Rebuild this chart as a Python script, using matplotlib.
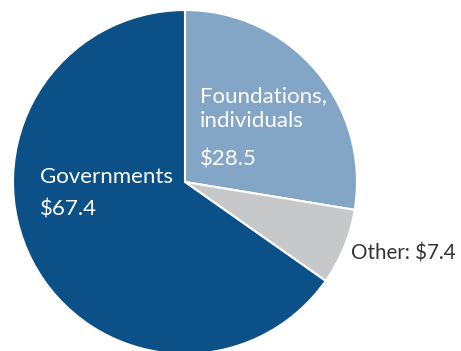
import matplotlib
matplotlib.use("Agg")
import matplotlib.pyplot as plt

labels = ["Foundations, individuals", "Other", "Governments"]
values = [28.5, 7.4, 67.4]
colors = ["#84a6c6", "#c7c8ca", "#0b5187"]

plt.rcParams['font.family'] = ['Lato', 'DejaVu Sans']

fig = plt.figure(figsize=(4.61, 3.51), dpi=100)
ax = fig.add_axes([0, 0, 1, 1])
ax.pie(values, colors=colors, startangle=90, counterclock=False,
       wedgeprops=dict(edgecolor="white", linewidth=1.5))
ax.set_aspect('auto')
ax.set_xlim(-185 / 172, (461 - 185) / 172)
ax.set_ylim(-(351 - 182) / 172, 182 / 172)
ax.axis('off')

def P(px, py):
    return (px - 185) / 172, (182 - py) / 172

fs = 16
kw = dict(fontsize=fs, va="baseline", ha="left", fontweight="normal")
ax.text(*P(200, 102), "Foundations,", color="white", **kw)
ax.text(*P(200, 127), "individuals", color="white", **kw)
ax.text(*P(200, 165), "$" + f"{values[0]}", color="white", **kw)
ax.text(*P(40, 183), "Governments", color="white", **kw)
ax.text(*P(40, 215), "$" + f"{values[2]}", color="white", **kw)
ax.text(*P(351, 259), "Other: $" + f"{values[1]}", color="#333333",
        fontsize=14.8, va="baseline", ha="left")

fig.savefig("out.png", dpi=100)
